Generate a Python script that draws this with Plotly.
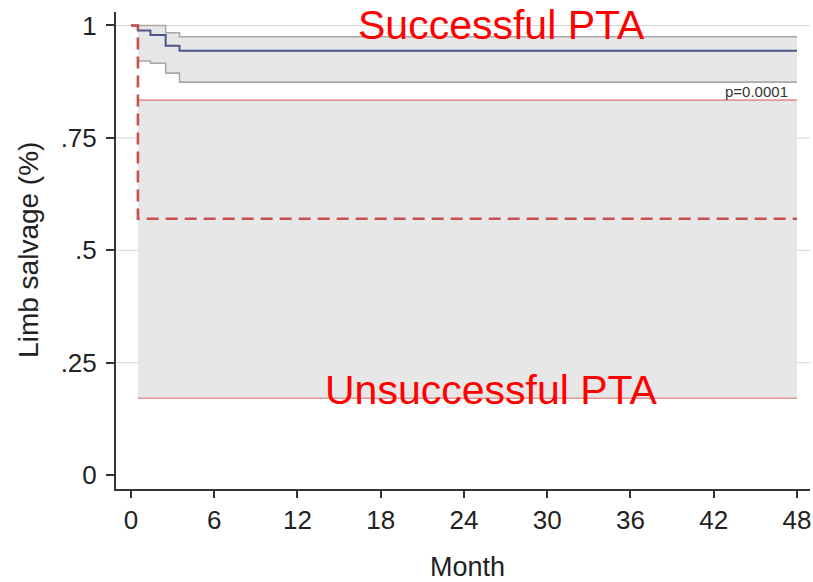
import plotly.graph_objects as go

# ---- data ----
x_ticks = [0, 6, 12, 18, 24, 30, 36, 42, 48]
y_ticks = [0, 0.25, 0.5, 0.75, 1]
y_tick_labels = ["0", ".25", ".5", ".75", "1"]
grid_values = [0.25, 0.5, 0.75, 1]

# Successful PTA (Kaplan-Meier)
months_s = [0, 0.5, 1.4, 2.5, 3.5, 48]
surv_s = [1.0, 0.989, 0.979, 0.955, 0.944, 0.944]
ci_months_s = [0.5, 1.4, 2.5, 3.5, 48]
ci_upper_s = [1.0, 1.0, 0.984, 0.975, 0.975]
ci_lower_s = [0.921, 0.916, 0.894, 0.874, 0.874]

# Unsuccessful PTA
months_u = [0, 0.5, 48]
surv_u = [1.0, 0.57, 0.57]
ci_months_u = [0.5, 48]
ci_upper_u = [0.834, 0.834]
ci_lower_u = [0.171, 0.171]

FONT = "Liberation Sans, Arial, sans-serif"
SHADE = "#e7e7e7"

fig = go.Figure()

def band(xs, lo, hi):
    fig.add_trace(go.Scatter(x=xs, y=lo, mode="lines", line=dict(width=0, shape="hv"),
                             hoverinfo="skip", showlegend=False))
    fig.add_trace(go.Scatter(x=xs, y=hi, mode="lines", line=dict(width=0, shape="hv"),
                             fill="tonexty", fillcolor=SHADE, hoverinfo="skip", showlegend=False))

band(ci_months_s, ci_lower_s, ci_upper_s)
band(ci_months_u, ci_lower_u, ci_upper_u)

for ys, col in [(ci_upper_s, "#a8a8a8"), (ci_lower_s, "#a8a8a8")]:
    fig.add_trace(go.Scatter(x=ci_months_s, y=ys, mode="lines",
                             line=dict(color=col, width=1.6, shape="hv"), showlegend=False))
for ys in [ci_upper_u, ci_lower_u]:
    fig.add_trace(go.Scatter(x=ci_months_u, y=ys, mode="lines",
                             line=dict(color="#e39494", width=1.6, shape="hv"), showlegend=False))

fig.add_trace(go.Scatter(x=months_s, y=surv_s, mode="lines",
                         line=dict(color="#4b578a", width=2, shape="hv"), showlegend=False))
fig.add_trace(go.Scatter(x=months_u, y=surv_u, mode="lines",
                         line=dict(color="#c8504f", width=2.6, shape="hv", dash="12px,7px"),
                         showlegend=False))

shapes = []
for g in grid_values:
    shapes.append(dict(type="line", xref="paper", yref="y", x0=0, x1=1, y0=g, y1=g,
                       line=dict(color="#d6d6d6", width=1), layer="below"))

annotations = [
    dict(x=26.7, y=1.0, xref="x", yref="y", text="Successful PTA", showarrow=False,
         font=dict(family=FONT, size=41, color="#ff0000"), xanchor="center", yanchor="middle"),
    dict(x=26.0, y=0.19, xref="x", yref="y", text="Unsuccessful PTA", showarrow=False,
         font=dict(family=FONT, size=41, color="#ff0000"), xanchor="center", yanchor="middle"),
    dict(x=47.5, y=0.854, xref="x", yref="y", text="p=0.0001", showarrow=False,
         font=dict(family=FONT, size=15, color="#333333"), xanchor="right", yanchor="middle"),
    dict(x=-0.127, y=0.501, xref="paper", yref="paper", text="Limb salvage (%)", showarrow=False,
         textangle=-90, font=dict(family=FONT, size=28, color="#222222"),
         xanchor="center", yanchor="middle"),
    dict(x=0.507, y=-0.163, xref="paper", yref="paper", text="Month", showarrow=False,
         font=dict(family=FONT, size=27, color="#222222"), xanchor="center", yanchor="middle"),
]

fig.update_layout(
    width=813, height=582,
    margin=dict(l=116, r=3, t=12, b=93),
    paper_bgcolor="white", plot_bgcolor="white",
    showlegend=False,
    shapes=shapes,
    annotations=annotations,
    font=dict(family=FONT, color="#222222"),
)
fig.update_xaxes(range=[-1.08, 48.94], tickvals=x_ticks, ticks="outside", ticklen=7,
                 tickwidth=1.5, tickcolor="#333333", showline=True, linecolor="#333333",
                 linewidth=2, showgrid=False, zeroline=False,
                 tickfont=dict(family=FONT, size=26, color="#222222"), ticklabelstandoff=0)
fig.update_yaxes(range=[-0.031, 1.03], tickvals=y_ticks, ticktext=y_tick_labels,
                 ticks="outside", ticklen=8, tickwidth=2, tickcolor="#333333",
                 showline=True, linecolor="#333333", linewidth=2, showgrid=False,
                 zeroline=False, tickfont=dict(family=FONT, size=26, color="#222222"),
                 ticklabelstandoff=4)

fig.write_html("out.html", config={"displayModeBar": False},
               post_script="document.body.style.margin='0';document.body.style.overflow='hidden';")
